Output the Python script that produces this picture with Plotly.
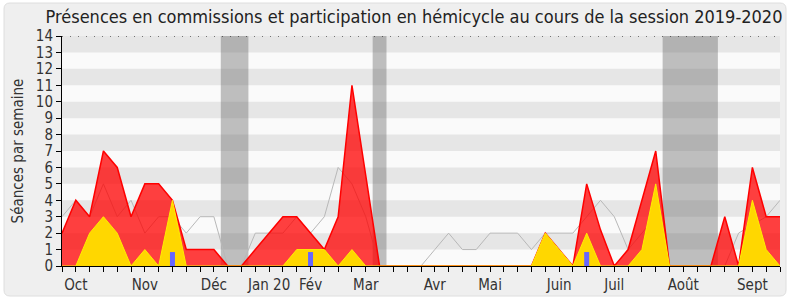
import plotly.graph_objects as go

weeks = list(range(53))
red = [2, 4, 3, 7, 6, 3, 5, 5, 4, 1, 1, 1, 0, 0, 1, 2, 3, 3, 2, 1, 3, 11, 5.5, 0, 0, 0, 0,
       0, 0, 0, 0, 0, 0, 0, 0, 2, 1, 0, 5, 2.2, 0, 1, 4, 7, 0, 0, 0, 0, 3, 0, 6, 3, 3]
yellow = [0, 0, 2, 3, 2, 0, 1, 0, 4, 0, 0, 0, 0, 0, 0, 0, 0, 1, 1, 1, 0, 1, 0, 0, 0, 0, 0,
          0, 0, 0, 0, 0, 0, 0, 0, 2, 1, 0, 2, 0, 0, 0, 1, 5, 0, 0, 0, 0, 0, 0, 4, 1, 0]
gray = [3, 4, 3, 5, 3, 4, 2, 3, 3, 2, 3, 3, 0, 0, 2, 2, 2, 3, 2, 3, 6, 5, 3, 0, 0, 0, 0,
        1, 2, 1, 1, 2, 2, 2, 1, 2, 2, 2, 3, 4, 3, 1, 2, 3, 0, 0, 0, 0, 0, 2, 2.5, 3, 4]
blue_weeks = [8, 18, 38]
blue_vals = [0.85, 0.85, 0.85]
vacations = [(11.5, 13.5), (22.5, 23.5), (43.5, 47.5)]
month_weeks = [1, 6, 11, 15, 18, 22, 27, 31, 36, 40, 45, 50]
month_labels = ["Oct", "Nov", "Déc", "Jan 20", "Fév", "Mar", "Avr", "Mai", "Juin", "Juil", "Août", "Sept"]

FONT = "DejaVu Sans Condensed, Liberation Sans Narrow, DejaVu Sans, sans-serif"

fig = go.Figure()
fig.add_trace(go.Scatter(x=weeks, y=gray, mode="lines",
                         line=dict(color="#b8b8b8", width=1), hoverinfo="skip"))
fig.add_trace(go.Scatter(x=weeks, y=red, mode="lines", fill="tozeroy",
                         fillcolor="rgba(255,0,0,0.75)",
                         line=dict(color="#ff0000", width=1.5), hoverinfo="skip"))
fig.add_trace(go.Scatter(x=weeks, y=yellow, mode="lines", fill="tozeroy",
                         fillcolor="#ffd700",
                         line=dict(color="#ffee00", width=1), hoverinfo="skip"))
bx, by = [], []
for w, v in zip(blue_weeks, blue_vals):
    bx += [w, w, None]
    by += [0, v, None]
fig.add_trace(go.Scatter(x=bx, y=by, mode="lines",
                         line=dict(color="#6666ff", width=5), hoverinfo="skip"))

shapes = []
L, T, W, H = 62, 36, 718, 230
def px(x):
    return (x - L) / W
def py(y):
    return 1 - (y - T) / H
x0, x1, y0, y1, r = 4, 786, 3, 296, 6
path = (f"M {px(x0+r)},{py(y0)} L {px(x1-r)},{py(y0)} Q {px(x1)},{py(y0)} {px(x1)},{py(y0+r)} "
        f"L {px(x1)},{py(y1-r)} Q {px(x1)},{py(y1)} {px(x1-r)},{py(y1)} "
        f"L {px(x0+r)},{py(y1)} Q {px(x0)},{py(y1)} {px(x0)},{py(y1-r)} "
        f"L {px(x0)},{py(y0+r)} Q {px(x0)},{py(y0)} {px(x0+r)},{py(y0)} Z")
shapes.append(dict(type="path", xref="paper", yref="paper", path=path,
                   fillcolor="#efefef", line=dict(color="#dedede", width=1), layer="below"))
shapes.append(dict(type="rect", xref="x", yref="y", x0=0, x1=52, y0=0, y1=14,
                   fillcolor="#fafafa", line=dict(width=0), layer="below"))
for k in range(1, 14, 2):
    shapes.append(dict(type="rect", xref="x", yref="y", x0=0, x1=52, y0=k, y1=k + 1,
                       fillcolor="#e6e6e6", line=dict(width=0), layer="below"))
for a, b in vacations:
    shapes.append(dict(type="rect", xref="x", yref="y", x0=a, x1=b, y0=0, y1=14,
                       fillcolor="rgba(100,100,100,0.4)", line=dict(width=0), layer="below"))
shapes.append(dict(type="line", xref="x", yref="y", x0=0, x1=52, y0=14, y1=14,
                   line=dict(color="#000000", width=1, dash="1px,7px"), layer="above"))

ticktext = [""] * 53
for w, lab in zip(month_weeks, month_labels):
    ticktext[w] = lab

fig.update_layout(
    width=790, height=300,
    margin=dict(l=L, r=790 - L - W, t=T, b=300 - T - H, autoexpand=False),
    paper_bgcolor="#ffffff", plot_bgcolor="rgba(0,0,0,0)",
    showlegend=False, shapes=shapes,
    font=dict(family=FONT, color="#333333"),
    title=dict(text="Présences en commissions et participation en hémicycle au cours de la session 2019-2020",
               x=414 / 790, xanchor="center", y=1 - 17 / 300, yanchor="middle",
               font=dict(size=18, color="#222222", family=FONT)),
    xaxis=dict(range=[0, 52], tickmode="array", tickvals=weeks, ticktext=ticktext,
               ticks="outside", ticklen=5, tickcolor="#000000", showgrid=False,
               zeroline=False, showline=True, linecolor="#000000", linewidth=1,
               tickfont=dict(size=15, color="#333333"), fixedrange=True, automargin=False),
    yaxis=dict(range=[0, 14], tickmode="array", tickvals=list(range(15)),
               ticks="outside", ticklen=5, tickcolor="#000000", showgrid=False,
               zeroline=False, showline=True, linecolor="#000000", linewidth=1,
               tickfont=dict(size=15, color="#333333"),
               title=dict(text="Séances par semaine", font=dict(size=15, color="#333333"),
                          standoff=8),
               fixedrange=True, automargin=False),
)

fig.write_html("out.html")
